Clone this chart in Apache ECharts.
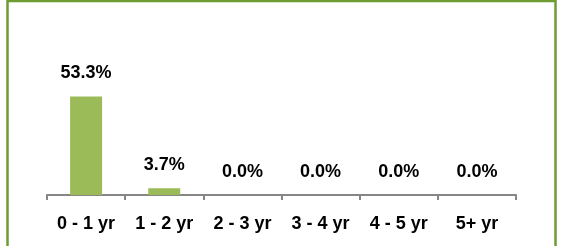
<!DOCTYPE html>
<html>
	<head>
		<meta charset="utf-8">
		<title></title>
		<script src="https://cdn.jsdelivr.net/npm/echarts@6/dist/echarts.min.js"></script>
		<style>
			html, body { margin: 0; padding: 0; background: #fff; }
			#main { width: 562px; height: 246px; }
		</style>
	</head>
	<body>
		<div id="main"></div>
		<script type="text/javascript">
			var categories = ['0 - 1 yr', '1 - 2 yr', '2 - 3 yr', '3 - 4 yr', '4 - 5 yr', '5+ yr'];
			var values = [53.3, 3.7, 0.0, 0.0, 0.0, 0.0];

			var myChart = echarts.init(document.getElementById('main'));
			myChart.setOption({
				animation: false,
				textStyle: { fontFamily: 'Liberation Sans' },
				graphic: [{
					type: 'rect',
					shape: { x: 7.5, y: 1, width: 548, height: 270 },
					style: { fill: 'none', stroke: '#6E9C33', lineWidth: 2.5 },
					silent: true
				}],
				grid: { left: 47, right: 46, top: 84, bottom: 51, containLabel: false },
				xAxis: {
					type: 'category',
					data: categories,
					axisLine: { lineStyle: { color: '#868686', width: 2 } },
					axisTick: { show: true, length: 5, alignWithLabel: false, lineStyle: { color: '#868686', width: 2 } },
					axisLabel: { color: '#000', fontWeight: 'bold', fontSize: 18, margin: 20, interval: 0 }
				},
				yAxis: {
					type: 'value',
					min: 0,
					max: 60,
					show: false
				},
				series: [{
					type: 'bar',
					data: values,
					barWidth: 32,
					itemStyle: { color: '#9BBB59' },
					label: {
						show: true,
						position: 'top',
						distance: 14,
						color: '#000',
						fontWeight: 'bold',
						fontSize: 18,
						formatter: function(p) { return p.value.toFixed(1) + '%'; }
					}
				}]
			});
		</script>
	</body>
</html>
